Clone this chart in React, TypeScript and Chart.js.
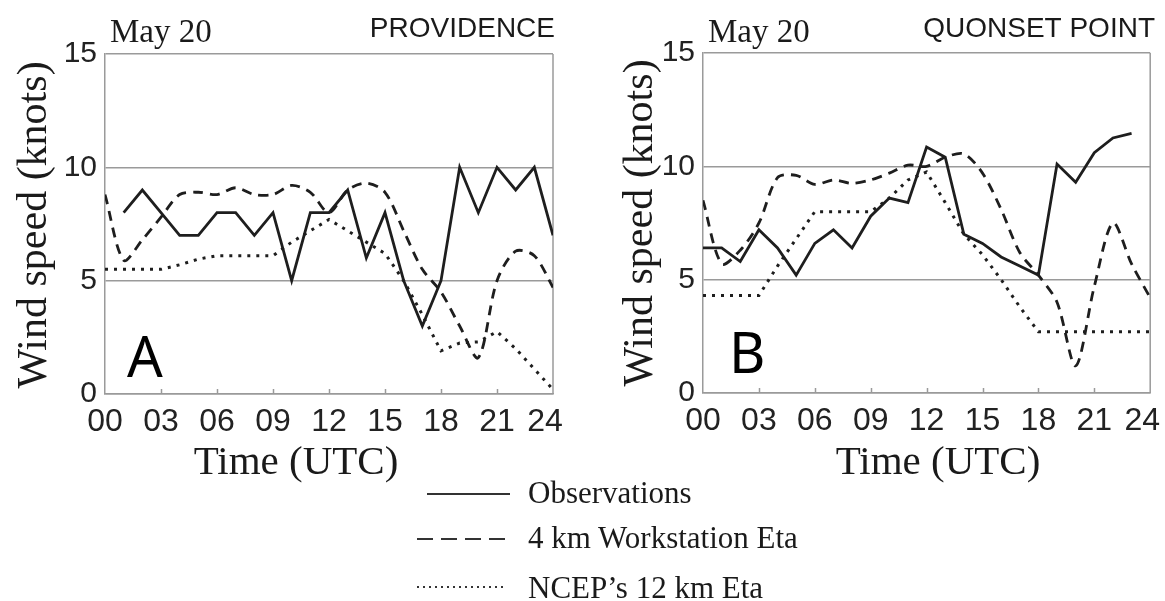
import React, { useEffect, useRef } from "react";
import { Chart, registerables } from "chart.js";

Chart.register(...registerables);

// ---------- data ----------
const hours = [0, 1, 2, 3, 4, 5, 6, 7, 8, 9, 10, 11, 12, 13, 14, 15, 16, 17, 18, 19, 20, 21, 22, 23, 24];
const xTickValues = [0, 3, 6, 9, 12, 15, 18, 21, 24];
const xTickLabels = ["00", "03", "06", "09", "12", "15", "18", "21", "24\u2002"];
const yTickValues = [0, 5, 10, 15];

const seriesNames = ["Observations", "4 km Workstation Eta", "NCEP\u2019s 12 km Eta"];

// Panel A: Providence
const provObs = [null, 8, 9, 8, 7, 7, 8, 8, 7, 8, 5, 8, 8, 9, 6, 8, 5, 3, 5, 10, 8, 10, 9, 10, 7];
const provWs = [8.8, 5.9, 6.8, 7.8, 8.8, 8.9, 8.8, 9.1, 8.8, 8.8, 9.2, 8.9, 8.0, 9.0, 9.3, 8.9, 7.2, 5.5, 4.5, 3.0, 1.6, 5.0, 6.3, 6.1, 4.7];
const provNcep = [5.5, 5.5, 5.5, 5.5, 5.7, 5.95, 6.1, 6.1, 6.1, 6.1, 6.7, 7.2, 7.7, 7.2, 6.7, 6.2, 5.0, 3.5, 1.9, 2.25, 2.3, 2.75, 2.0, 1.1, 0.2];

// Panel B: Quonset Point
const quonObs = [6.4, 6.4, 5.8, 7.2, 6.4, 5.2, 6.6, 7.2, 6.4, 7.8, 8.6, 8.4, 10.85, 10.4, 7.0, 6.6, 6.0, 5.6, 5.2, 10.1, 9.3, 10.6, 11.25, 11.45, null];
const quonWs = [8.5, 5.7, 6.3, 7.5, 9.5, 9.6, 9.2, 9.4, 9.25, 9.4, 9.7, 10.05, 10.0, 10.4, 10.55, 9.7, 8.1, 6.2, 5.2, 4.0, 1.2, 4.7, 7.5, 5.7, 4.2];
const quonNcep = [4.3, 4.3, 4.3, 4.3, 5.6, 6.8, 8.0, 8.0, 8.0, 8.0, 8.6, 9.4, 9.75, 8.4, 7.0, 6.1, 5.0, 3.8, 2.7, 2.7, 2.7, 2.7, 2.7, 2.7, 2.7];

// ---------- styles ----------
const LINE = "#1e1e1e";
const GRID = "#9a9a9a";
const SERIF = "'Liberation Serif', 'Times New Roman', serif";
const SANS = "'Liberation Sans', Arial, sans-serif";

const decoPlugin = {
  id: "deco",
  beforeDatasetsDraw(chart: any) {
    const { ctx, chartArea } = chart;
    const xs = chart.scales.x;
    ctx.save();
    ctx.strokeStyle = GRID;
    ctx.lineWidth = 1.5;
    ctx.beginPath();
    ctx.moveTo(chartArea.right, chartArea.top);
    ctx.lineTo(chartArea.right, chartArea.bottom);
    xTickValues.forEach((v) => {
      if (v === 0 || v === 24) return;
      const px = Math.round(xs.getPixelForValue(v)) + 0.5;
      ctx.moveTo(px, chartArea.bottom);
      ctx.lineTo(px, chartArea.bottom - 5);
    });
    ctx.stroke();
    ctx.restore();
  },
  afterDraw(chart: any, _args: any, opts: any) {
    const { ctx } = chart;
    ctx.save();
    ctx.fillStyle = "#1a1a1a";
    // y title
    ctx.save();
    ctx.translate(opts.yTitle.x, opts.yTitle.y);
    ctx.rotate(-Math.PI / 2);
    ctx.font = `42px ${SERIF}`;
    ctx.textAlign = "center";
    ctx.textBaseline = "middle";
    ctx.fillText("Wind speed (knots)", 0, 0);
    ctx.restore();
    // x title
    ctx.font = `41px ${SERIF}`;
    ctx.textAlign = "center";
    ctx.textBaseline = "alphabetic";
    ctx.fillText("Time (UTC)", opts.xTitle.x, opts.xTitle.y);
    // date
    ctx.font = `33px ${SERIF}`;
    ctx.textAlign = "left";
    ctx.fillText("May 20", opts.date.x, opts.date.y);
    // station
    ctx.font = `28px ${SANS}`;
    ctx.textAlign = "right";
    ctx.fillText(opts.station.text, opts.station.x, opts.station.y);
    // panel letter
    ctx.font = `56px 'Noto Sans', ${SANS}`;
    ctx.textAlign = "left";
    ctx.fillStyle = "#000";
    ctx.fillText(opts.letter.text, opts.letter.x, opts.letter.y);
    ctx.restore();
  },
};

function makeConfig(obs: any[], ws: any[], ncep: any[], p: any) {
  const pts = (arr: any[]) => hours.map((h, i) => ({ x: h, y: arr[i] }));
  return {
    type: "line",
    data: {
      datasets: [
        {
          label: seriesNames[0],
          data: pts(obs),
          borderColor: LINE,
          borderWidth: 2.8,
          pointRadius: 0,
          tension: 0,
          spanGaps: false,
        },
        {
          label: seriesNames[1],
          data: pts(ws),
          borderColor: LINE,
          borderWidth: 2.8,
          borderDash: [10, 7],
          pointRadius: 0,
          tension: 0.3,
        },
        {
          label: seriesNames[2],
          data: pts(ncep),
          borderColor: LINE,
          borderWidth: 3,
          borderDash: [3, 6],
          pointRadius: 0,
          tension: 0,
        },
      ],
    },
    options: {
      animation: false,
      responsive: false,
      maintainAspectRatio: false,
      layout: { padding: { top: p.top, right: p.right, left: 0, bottom: 0 } },
      plugins: {
        legend: { display: false },
        tooltip: { enabled: false },
        deco: p.deco,
      },
      scales: {
        x: {
          type: "linear",
          min: 0,
          max: 24,
          afterBuildTicks: (s: any) => {
            s.ticks = xTickValues.map((v) => ({ value: v }));
          },
          ticks: {
            autoSkip: false,
            maxRotation: 0,
            padding: 9,
            color: "#222",
            font: { family: SANS, size: 32 },
            callback: (v: any) => {
              const i = xTickValues.indexOf(Number(v));
              return i >= 0 ? xTickLabels[i] : "";
            },
          },
          grid: { display: false, drawTicks: false },
          border: { display: true, color: GRID, width: 1.5 },
          afterFit: (s: any) => {
            s.height = p.xHeight;
          },
        },
        y: {
          min: 0,
          max: 15,
          afterBuildTicks: (s: any) => {
            s.ticks = yTickValues.map((v) => ({ value: v }));
          },
          ticks: {
            padding: 8,
            color: "#222",
            font: { family: SANS, size: 30 },
          },
          grid: { color: GRID, lineWidth: 1.5, drawTicks: false },
          border: { display: true, color: GRID, width: 1.5 },
          afterFit: (s: any) => {
            s.width = p.yWidth;
          },
        },
      },
    },
    plugins: [decoPlugin],
  };
}

function Panel(props: { left: number; width: number; height: number; config: any }) {
  const ref = useRef<HTMLCanvasElement | null>(null);
  useEffect(() => {
    if (!ref.current) return;
    const chart = new Chart(ref.current, props.config);
    return () => chart.destroy();
  }, []);
  return (
    <canvas
      ref={ref}
      width={props.width}
      height={props.height}
      style={{ position: "absolute", left: props.left, top: 0, width: props.width, height: props.height }}
    />
  );
}

export default function App() {
  const H = 490;
  const cfgA = makeConfig(provObs, provWs, provNcep, {
    top: 54,
    right: 590 - 553,
    yWidth: 105,
    xHeight: H - 394,
    deco: {
      yTitle: { x: 35, y: 225 },
      xTitle: { x: 296, y: 474 },
      date: { x: 110, y: 42 },
      station: { text: "PROVIDENCE", x: 555, y: 37 },
      letter: { text: "A", x: 127, y: 377 },
    },
  });
  const cfgB = makeConfig(quonObs, quonWs, quonNcep, {
    top: 53,
    right: 590 - 560,
    yWidth: 108,
    xHeight: H - 393,
    deco: {
      yTitle: { x: 46, y: 223 },
      xTitle: { x: 343, y: 474 },
      date: { x: 113, y: 42 },
      station: { text: "QUONSET POINT", x: 560, y: 37 },
      letter: { text: "B", x: 134, y: 373 },
    },
  });

  const legendRows = [
    { y: 494, x1: 427, x2: 510, dash: "", width: 2 },
    { y: 539, x1: 417, x2: 510, dash: "16 8", width: 2 },
    { y: 587, x1: 417, x2: 507, dash: "2 4", width: 2 },
  ];
  const legendTextY = [503, 548, 598];

  return (
    <div
      style={{
        position: "absolute",
        left: 0,
        top: 0,
        width: 1165,
        height: 601,
        overflow: "hidden",
        background: "#fff",
      }}
    >
      <Panel left={0} width={590} height={H} config={cfgA} />
      <Panel left={595} width={590} height={H} config={cfgB} />
      <svg
        width={1165}
        height={601}
        style={{ position: "absolute", left: 0, top: 0, pointerEvents: "none" }}
      >
        {legendRows.map((r, i) => (
          <g key={i}>
            <line
              x1={r.x1}
              x2={r.x2}
              y1={r.y}
              y2={r.y}
              stroke="#333"
              strokeWidth={r.width}
              strokeDasharray={r.dash || undefined}
            />
            <text
              x={528}
              y={legendTextY[i]}
              fontFamily={SERIF}
              fontSize={31}
              fill="#1a1a1a"
            >
              {seriesNames[i]}
            </text>
          </g>
        ))}
      </svg>
    </div>
  );
}
